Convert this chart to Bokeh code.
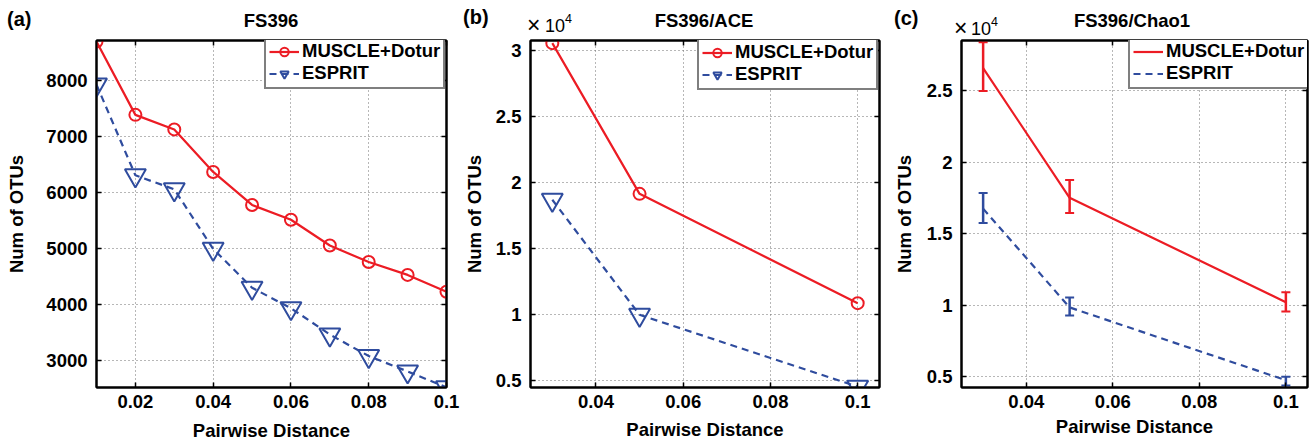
from bokeh.plotting import figure
from bokeh.layouts import row, column
from bokeh.models import (Range1d, FixedTicker, LinearAxis, Legend, LegendItem,
                          ColumnDataSource, Whisker, TeeHead, Div)
from bokeh.embed import file_html
from bokeh.resources import INLINE

# ---------------- data ----------------
dist_a = [0.01, 0.02, 0.03, 0.04, 0.05, 0.06, 0.07, 0.08, 0.09, 0.1]
muscle_a = [8700, 7390, 7130, 6370, 5780, 5515, 5055, 4760, 4530, 4230]
esprit_a = [7930, 6310, 6060, 4995, 4300, 3935, 3465, 3080, 2805, 2520]

dist_bc = [0.03, 0.05, 0.1]
muscle_ace = [30550, 19150, 10880]
esprit_ace = [18700, 10000, 4560]

muscle_chao = [26600, 17530, 10230]
muscle_chao_hi = [28400, 18770, 10920]
muscle_chao_lo = [25000, 16470, 9580]
esprit_chao = [16770, 9860, 4770]
esprit_chao_hi = [17860, 10550, 5020]
esprit_chao_lo = [15770, 9300, 4400]

x_ticks_a = [0.02, 0.04, 0.06, 0.08, 0.1]
x_labels_a = ["0.02", "0.04", "0.06", "0.08", "0.1"]
x_ticks_bc = [0.04, 0.06, 0.08, 0.1]
x_labels_bc = ["0.04", "0.06", "0.08", "0.1"]
y_ticks_a = [3000, 4000, 5000, 6000, 7000, 8000]
y_labels_a = ["3000", "4000", "5000", "6000", "7000", "8000"]
y_ticks_bc = [5000, 10000, 15000, 20000, 25000, 30000]
y_labels_bc = ["0.5", "1", "1.5", "2", "2.5", "3"]

titles = ["FS396", "FS396/ACE", "FS396/Chao1"]
panels = ["(a)", "(b)", "(c)"]
series = ["MUSCLE+Dotur", "ESPRIT"]
scale_text = ["×", "10", "4"]

RED = "#EC1C24"
BLUE = "#2F4C9E"
FONT = "Liberation Sans"
FS = "18.5px"
HEAD = 36


def make_fig(width, bl, br, bt, bb, xr, yr, xt, xl, yt, yl, xlab_standoff, ylab_standoff):
    p = figure(width=width, height=448 - HEAD, output_backend="svg", toolbar_location=None,
               x_range=Range1d(*xr), y_range=Range1d(*yr),
               min_border_left=bl, min_border_right=br, min_border_top=bt,
               min_border_bottom=bb, background_fill_color="white",
               border_fill_color="white")
    p.outline_line_color = "black"
    p.outline_line_width = 2
    p.xaxis.ticker = FixedTicker(ticks=xt)
    p.yaxis.ticker = FixedTicker(ticks=yt)
    p.xaxis.major_label_overrides = dict(zip(xt, xl))
    p.yaxis.major_label_overrides = dict(zip(yt, yl))
    for ax in (p.xaxis[0], p.yaxis[0]):
        ax.axis_line_width = 2
        ax.axis_line_color = "black"
        ax.major_tick_in = 5
        ax.major_tick_out = 0
        ax.major_tick_line_width = 1.5
        ax.minor_tick_line_color = None
        ax.major_label_text_font = FONT
        ax.major_label_text_font_style = "bold"
        ax.major_label_text_font_size = FS
        ax.major_label_text_color = "black"
        ax.axis_label_text_font = FONT
        ax.axis_label_text_font_style = "bold"
        ax.axis_label_text_font_size = FS
        ax.axis_label_text_color = "black"
    p.xaxis.major_label_standoff = 7
    p.xaxis.axis_label_standoff = xlab_standoff
    p.yaxis.major_label_standoff = 9
    p.yaxis.axis_label_standoff = ylab_standoff
    p.xaxis.axis_label = "Pairwise Distance"
    p.yaxis.axis_label = "Num of OTUs"
    # box ticks on top/right
    for loc, ticks in (("above", xt), ("right", yt)):
        ax = LinearAxis(ticker=FixedTicker(ticks=ticks))
        ax.major_label_overrides = {t: "" for t in ticks}
        ax.major_label_text_font_size = "0px"
        ax.major_label_standoff = 0
        ax.axis_line_width = 2
        ax.major_tick_in = 5
        ax.major_tick_out = 0
        ax.major_tick_line_width = 1.5
        ax.minor_tick_line_color = None
        p.add_layout(ax, loc)
    p.grid.grid_line_color = "#6e6e6e"
    p.grid.grid_line_dash = "1 3"
    p.grid.grid_line_width = 1
    p.xgrid.ticker = FixedTicker(ticks=xt)
    p.ygrid.ticker = FixedTicker(ticks=yt)
    return p


def add_legend(p, items, loc):
    lg = Legend(items=items, location=loc)
    lg.border_line_color = "black"
    lg.border_line_width = 2
    lg.background_fill_alpha = 1
    lg.label_text_font = FONT
    lg.label_text_font_style = "bold"
    lg.label_text_font_size = FS
    lg.label_text_color = "black"
    lg.glyph_width = 30
    lg.glyph_height = 21
    lg.label_height = 21
    lg.label_standoff = 3
    lg.padding = 3
    lg.spacing = 0
    lg.margin = 0
    p.add_layout(lg)


LW = 2.2
CSIZE = 12
TSIZE = 21

# ---------------- panel (a) ----------------
pa = make_fig(460, 96, 14, 0, 61, (0.01, 0.1), (2518, 8719),
              x_ticks_a, x_labels_a, y_ticks_a, y_labels_a, 9, 16)
la1 = pa.line(dist_a, muscle_a, line_color=RED, line_width=LW)
sa1 = pa.scatter(dist_a, muscle_a, marker="circle", size=CSIZE, line_color=RED,
                 line_width=2, fill_color=None)
la2 = pa.line(dist_a, esprit_a, line_color=BLUE, line_width=LW, line_dash="7 5")
sa2 = pa.scatter(dist_a, esprit_a, marker="inverted_triangle", size=TSIZE, line_color=BLUE,
                 line_width=2, fill_color=None)
add_legend(pa, [LegendItem(label=series[0], renderers=[la1, sa1]),
                LegendItem(label=series[1], renderers=[la2, sa2])], (168, 298))

# ---------------- panel (b) ----------------
pb = make_fig(430, 69, 11, 2, 60, (0.025, 0.105), (4500, 30750),
              x_ticks_bc, x_labels_bc, y_ticks_bc, y_labels_bc, 8, 8)
lb1 = pb.line(dist_bc, muscle_ace, line_color=RED, line_width=LW)
sb1 = pb.scatter(dist_bc, muscle_ace, marker="circle", size=CSIZE, line_color=RED,
                 line_width=2, fill_color=None)
lb2 = pb.line(dist_bc, esprit_ace, line_color=BLUE, line_width=LW, line_dash="7 5")
sb2 = pb.scatter(dist_bc, esprit_ace, marker="inverted_triangle", size=TSIZE, line_color=BLUE,
                 line_width=2, fill_color=None)
add_legend(pb, [LegendItem(label=series[0], renderers=[lb1, sb1]),
                LegendItem(label=series[1], renderers=[lb2, sb2])], (167, 297))

# ---------------- panel (c) ----------------
pc = make_fig(420, 67, 3, 4, 57, (0.025, 0.105), (4260, 28530),
              x_ticks_bc, x_labels_bc, y_ticks_bc, y_labels_bc, 5, 9)
src_m = ColumnDataSource(dict(x=dist_bc, y=muscle_chao, lo=muscle_chao_lo, hi=muscle_chao_hi))
src_e = ColumnDataSource(dict(x=dist_bc, y=esprit_chao, lo=esprit_chao_lo, hi=esprit_chao_hi))
lc1 = pc.line("x", "y", source=src_m, line_color=RED, line_width=LW)
lc2 = pc.line("x", "y", source=src_e, line_color=BLUE, line_width=LW, line_dash="7 5")
for src, col in ((src_m, RED), (src_e, BLUE)):
    w = Whisker(source=src, base="x", upper="hi", lower="lo", line_color=col, line_width=2.5,
                upper_head=TeeHead(size=9, line_color=col, line_width=2),
                lower_head=TeeHead(size=9, line_color=col, line_width=2), level="glyph")
    pc.add_layout(w)
add_legend(pc, [LegendItem(label=series[0], renderers=[lc1]),
                LegendItem(label=series[1], renderers=[lc2])], (167, 298))


# ---------------- header texts (titles, panel letters, scale) ----------------
def span(txt, left, baseline, size, bold=True, center=False):
    lh = round(size * 1.15, 2)
    top = round(baseline - ((lh - size * 1.117) / 2 + size * 0.905), 1)
    st = (f"position:absolute;left:{left}px;top:{top}px;font-size:{size}px;"
          f"line-height:{lh}px;white-space:nowrap;"
          f"font-weight:{'bold' if bold else 'normal'};")
    if center:
        st += "transform:translateX(-50%);"
    return f'<span style="{st}">{txt}</span>'


parts = [
    span(panels[0], 7, 26, 20), span(panels[1], 463, 24, 20), span(panels[2], 894, 25, 20),
    span(titles[0], 271, 27, 18.5, center=True),
    span(titles[1], 704, 27, 18.5, center=True),
    span(titles[2], 1132, 27, 18.5, center=True),
    span(scale_text[0], 527, 33, 23, bold=False), span(scale_text[1], 545, 33, 18, bold=False),
    span(scale_text[2], 565, 23.5, 12.5, bold=False),
    span(scale_text[0], 954, 36, 23, bold=False), span(scale_text[1], 971, 36, 18, bold=False),
    span(scale_text[2], 991, 26.5, 12.5, bold=False),
]
html = (f'<div style="position:relative;width:1310px;height:{HEAD}px;'
        f"font-family:'{FONT}';color:black;overflow:visible\">" + "".join(parts) + "</div>")
header = Div(text=html, width=1310, height=HEAD, margin=(0, 0, 0, 0))

layout = column(header, row(pa, pb, pc, spacing=0), spacing=0)
open("out.html", "w").write(file_html(layout, INLINE))
